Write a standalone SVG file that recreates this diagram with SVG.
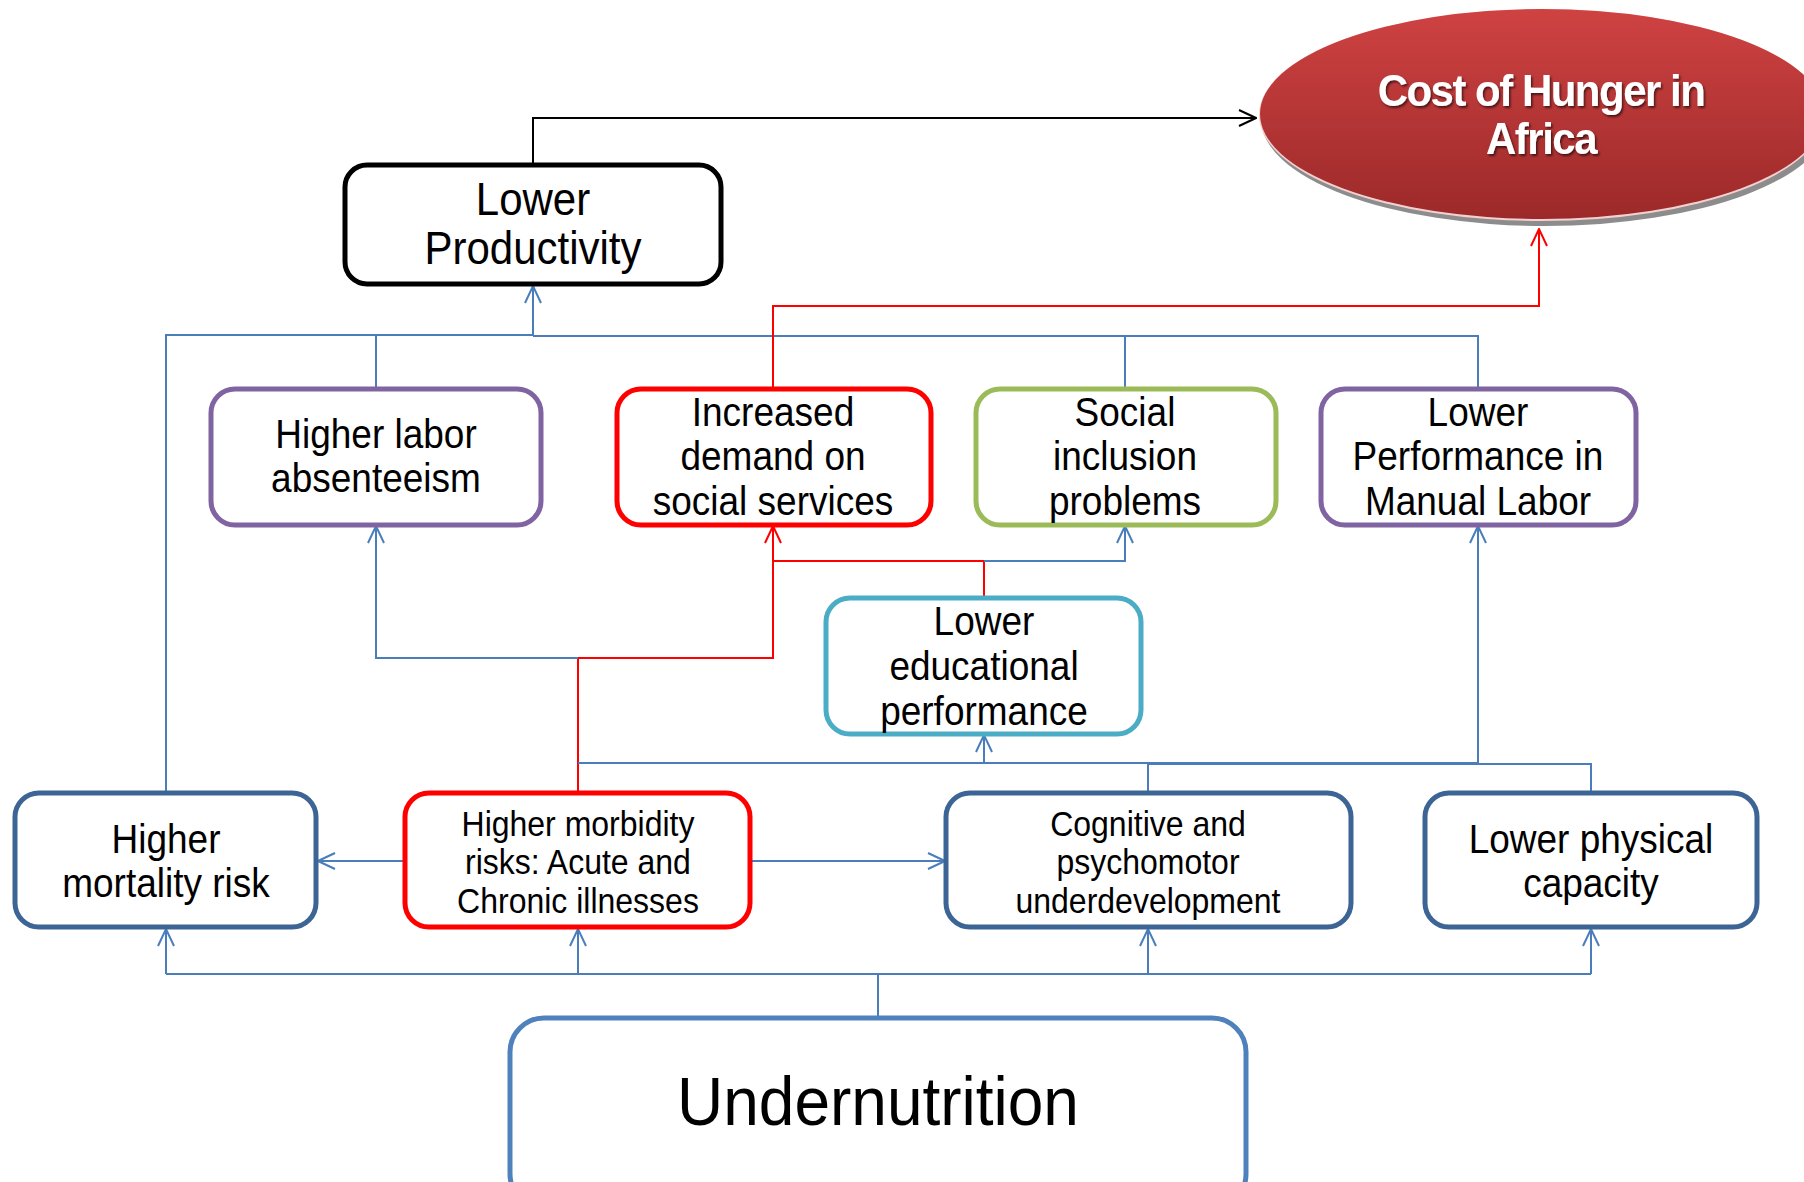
<svg xmlns="http://www.w3.org/2000/svg" width="1804" height="1182" viewBox="0 0 1804 1182">
<defs>
<marker id="ab" viewBox="0 0 20 20" refX="19" refY="10" markerWidth="20" markerHeight="20" markerUnits="userSpaceOnUse" orient="auto"><path d="M2,2 L19,10 L2,18" fill="none" stroke="#4a7ebb" stroke-width="2"/></marker>
<marker id="ar" viewBox="0 0 20 20" refX="19" refY="10" markerWidth="20" markerHeight="20" markerUnits="userSpaceOnUse" orient="auto"><path d="M2,2 L19,10 L2,18" fill="none" stroke="#ff0000" stroke-width="2"/></marker>
<marker id="ak" viewBox="0 0 20 20" refX="19" refY="10" markerWidth="20" markerHeight="20" markerUnits="userSpaceOnUse" orient="auto"><path d="M2,2 L19,10 L2,18" fill="none" stroke="#000" stroke-width="2"/></marker>
<linearGradient id="red" x1="0" y1="0" x2="0" y2="1"><stop offset="0" stop-color="#cf4242"/><stop offset="1" stop-color="#9c2929"/></linearGradient>
<filter id="ts" x="-10%" y="-20%" width="120%" height="140%"><feDropShadow dx="1.5" dy="2" stdDeviation="1" flood-color="#000" flood-opacity="0.6"/></filter>
</defs>
<style>
.box{fill:#fff;stroke-width:5}
.t{font-family:"Liberation Sans",Arial,sans-serif;text-anchor:middle;fill:#000}
.b{fill:none;stroke:#4a7ebb;stroke-width:2}
.r{fill:none;stroke:#ff0000;stroke-width:2}
.k{fill:none;stroke:#000;stroke-width:2}
</style>
<rect width="1804" height="1182" fill="#fff"/>
<g id="connectors">
<path class="k" d="M533,164 V118 H1256" marker-end="url(#ak)"/>
<path class="b" d="M533,336 V286" marker-end="url(#ab)"/>
<path class="b" d="M166,793 V335 H533"/>
<path class="b" d="M376,389 V335"/>
<path class="b" d="M533,336 H1478 V389"/>
<path class="b" d="M1125,389 V336"/>
<path class="r" d="M773,389 V306 H1539 V229" marker-end="url(#ar)"/>
<path class="r" d="M984,598 V561 H773 V526" marker-end="url(#ar)"/>
<path class="b" d="M984,561 H1125 V526" marker-end="url(#ab)"/>
<path class="r" d="M578,793 V658 H773 V561"/>
<path class="b" d="M578,658 H376 V526" marker-end="url(#ab)"/>
<path class="b" d="M578,763 H1478"/>
<path class="b" d="M984,763 V735" marker-end="url(#ab)"/>
<path class="b" d="M1148,793 V764 H1591 V793"/>
<path class="b" d="M1478,764 V526" marker-end="url(#ab)"/>
<path class="b" d="M405,861 H318" marker-end="url(#ab)"/>
<path class="b" d="M750,861 H945" marker-end="url(#ab)"/>
<path class="b" d="M878,1017 V974"/>
<path class="b" d="M166,974 H1591"/>
<path class="b" d="M166,974 V929" marker-end="url(#ab)"/>
<path class="b" d="M578,974 V929" marker-end="url(#ab)"/>
<path class="b" d="M1148,974 V929" marker-end="url(#ab)"/>
<path class="b" d="M1591,974 V929" marker-end="url(#ab)"/>
</g>
<g id="cost-of-hunger">
<ellipse cx="1545" cy="119" rx="284" ry="107" fill="#8c8c8c"/>
<ellipse cx="1542" cy="115" rx="283" ry="106" fill="#f4d0d0"/>
<ellipse cx="1542" cy="114" rx="282" ry="105" fill="url(#red)"/>
<g filter="url(#ts)" font-family="Liberation Sans,Arial,sans-serif" font-weight="bold" font-size="42" fill="#fff" text-anchor="middle" letter-spacing="-1.5">
<text x="1541" y="0" transform="translate(0,106) scale(1,1.05)">Cost of Hunger in</text>
<text x="1541" y="0" transform="translate(0,154) scale(1,1.05)">Africa</text>
</g>
</g>
<g id="lower-productivity">
<rect class="box" x="345" y="165" width="376" height="119" rx="22" stroke="#000"/>
<text class="t" font-size="42" x="533" y="0" transform="translate(0,215) scale(1,1.08)">Lower</text>
<text class="t" font-size="42" x="533" y="0" transform="translate(0,264) scale(1,1.08)">Productivity</text>
</g>
<g id="higher-labor-absenteeism">
<rect class="box" x="211" y="389" width="330" height="136" rx="24" stroke="#8064a2"/>
<text class="t" font-size="37" x="376" y="0" transform="translate(0,448) scale(1,1.08)">Higher labor</text>
<text class="t" font-size="37" x="376" y="0" transform="translate(0,492) scale(1,1.08)">absenteeism</text>
</g>
<g id="increased-demand">
<rect class="box" x="617" y="389" width="314" height="136" rx="24" stroke="#ff0000"/>
<text class="t" font-size="37" x="773" y="0" transform="translate(0,426) scale(1,1.08)">Increased</text>
<text class="t" font-size="37" x="773" y="0" transform="translate(0,470) scale(1,1.08)">demand on</text>
<text class="t" font-size="37" x="773" y="0" transform="translate(0,515) scale(1,1.08)">social services</text>
</g>
<g id="social-inclusion">
<rect class="box" x="976" y="389" width="300" height="136" rx="24" stroke="#9bbb59"/>
<text class="t" font-size="37" x="1125" y="0" transform="translate(0,426) scale(1,1.08)">Social</text>
<text class="t" font-size="37" x="1125" y="0" transform="translate(0,470) scale(1,1.08)">inclusion</text>
<text class="t" font-size="37" x="1125" y="0" transform="translate(0,515) scale(1,1.08)">problems</text>
</g>
<g id="lower-performance-manual">
<rect class="box" x="1321" y="389" width="315" height="136" rx="24" stroke="#8064a2"/>
<text class="t" font-size="37" x="1478" y="0" transform="translate(0,426) scale(1,1.08)">Lower</text>
<text class="t" font-size="37" x="1478" y="0" transform="translate(0,470) scale(1,1.08)">Performance in</text>
<text class="t" font-size="37" x="1478" y="0" transform="translate(0,515) scale(1,1.08)">Manual Labor</text>
</g>
<g id="lower-educational">
<rect class="box" x="826" y="598" width="315" height="136" rx="24" stroke="#4bacc6"/>
<text class="t" font-size="37" x="984" y="0" transform="translate(0,635) scale(1,1.08)">Lower</text>
<text class="t" font-size="37" x="984" y="0" transform="translate(0,680) scale(1,1.08)">educational</text>
<text class="t" font-size="37" x="984" y="0" transform="translate(0,725) scale(1,1.08)">performance</text>
</g>
<g id="higher-mortality">
<rect class="box" x="15" y="793" width="301" height="134" rx="24" stroke="#3c6494"/>
<text class="t" font-size="37" x="166" y="0" transform="translate(0,853) scale(1,1.08)">Higher</text>
<text class="t" font-size="37" x="166" y="0" transform="translate(0,897) scale(1,1.08)">mortality risk</text>
</g>
<g id="higher-morbidity">
<rect class="box" x="405" y="793" width="345" height="134" rx="24" stroke="#ff0000"/>
<text class="t" font-size="32" x="578" y="0" transform="translate(0,836) scale(1,1.08)">Higher morbidity</text>
<text class="t" font-size="32" x="578" y="0" transform="translate(0,874) scale(1,1.08)">risks: Acute and</text>
<text class="t" font-size="32" x="578" y="0" transform="translate(0,913) scale(1,1.08)">Chronic illnesses</text>
</g>
<g id="cognitive">
<rect class="box" x="946" y="793" width="405" height="134" rx="24" stroke="#3c6494"/>
<text class="t" font-size="32" x="1148" y="0" transform="translate(0,836) scale(1,1.08)">Cognitive and</text>
<text class="t" font-size="32" x="1148" y="0" transform="translate(0,874) scale(1,1.08)">psychomotor</text>
<text class="t" font-size="32" x="1148" y="0" transform="translate(0,913) scale(1,1.08)">underdevelopment</text>
</g>
<g id="lower-physical">
<rect class="box" x="1425" y="793" width="332" height="134" rx="24" stroke="#3c6494"/>
<text class="t" font-size="37" x="1591" y="0" transform="translate(0,853) scale(1,1.08)">Lower physical</text>
<text class="t" font-size="37" x="1591" y="0" transform="translate(0,897) scale(1,1.08)">capacity</text>
</g>
<g id="undernutrition">
<rect class="box" x="510" y="1018" width="736" height="190" rx="34" stroke="#4f81bd"/>
<text class="t" font-size="64" x="878" y="0" transform="translate(0,1125) scale(1,1.08)">Undernutrition</text>
</g>
</svg>
